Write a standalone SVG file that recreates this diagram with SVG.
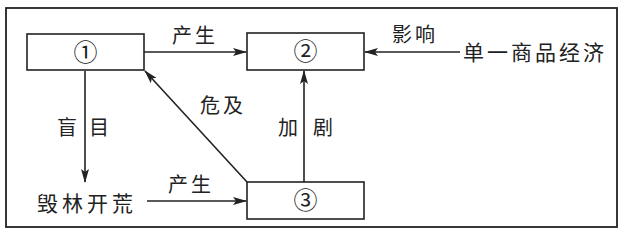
<svg xmlns="http://www.w3.org/2000/svg" width="623" height="232" viewBox="0 0 623 232">
<style>
.box{fill:#fff;stroke:#222;stroke-width:1.6}
.ln{stroke:#222;stroke-width:1.6;fill:none}
.t{font-family:"Noto Sans CJK SC","Liberation Serif",serif;fill:#222;font-size:20px;letter-spacing:3px}
.n{font-family:"Liberation Serif","Noto Sans CJK SC",serif;fill:#222;font-size:24px;text-anchor:middle}
</style>
<defs>
<marker id="ah" markerWidth="14" markerHeight="8" refX="13" refY="4" orient="auto" markerUnits="userSpaceOnUse">
<path d="M0,0 L14,4 L0,8 L3,4 Z" fill="#222"/>
</marker>
</defs>
<rect x="6" y="8" width="611" height="219" fill="#fff" stroke="#222" stroke-width="1.8"/>
<g id="connectors">
<line class="ln" x1="144" y1="52" x2="246" y2="52" marker-end="url(#ah)"/>
<line class="ln" x1="460" y1="52" x2="365" y2="52" marker-end="url(#ah)"/>
<line class="ln" x1="85" y1="71" x2="85" y2="182" marker-end="url(#ah)"/>
<line class="ln" x1="147" y1="201" x2="246" y2="201" marker-end="url(#ah)"/>
<line class="ln" x1="247" y1="182" x2="145" y2="71" marker-end="url(#ah)"/>
<line class="ln" x1="304" y1="182" x2="304" y2="71" marker-end="url(#ah)"/>
<text class="t" x="172" y="43">产生</text>
<text class="t" x="392" y="42">影响</text>
<text class="t" x="57" y="135">盲</text>
<text class="t" x="89" y="135">目</text>
<text class="t" x="200" y="113">危及</text>
<text class="t" x="278" y="135">加</text>
<text class="t" x="313" y="135">剧</text>
<text class="t" x="168" y="192">产生</text>
</g>
<g id="n1"><rect class="box" x="27" y="34" width="117" height="36"/><text class="n" x="85.5" y="61">①</text></g>
<g id="n2"><rect class="box" x="247" y="33" width="117" height="37"/><text class="n" x="305.5" y="60">②</text></g>
<g id="n3"><rect class="box" x="247" y="182" width="117" height="37"/><text class="n" x="305.5" y="209">③</text></g>
<g id="n4"><text class="t" x="463" y="60" style="font-size:21px;letter-spacing:3px">单一商品经济</text></g>
<g id="n5"><text class="t" x="37" y="211" style="font-size:21px;letter-spacing:4px">毁林开荒</text></g>
</svg>
